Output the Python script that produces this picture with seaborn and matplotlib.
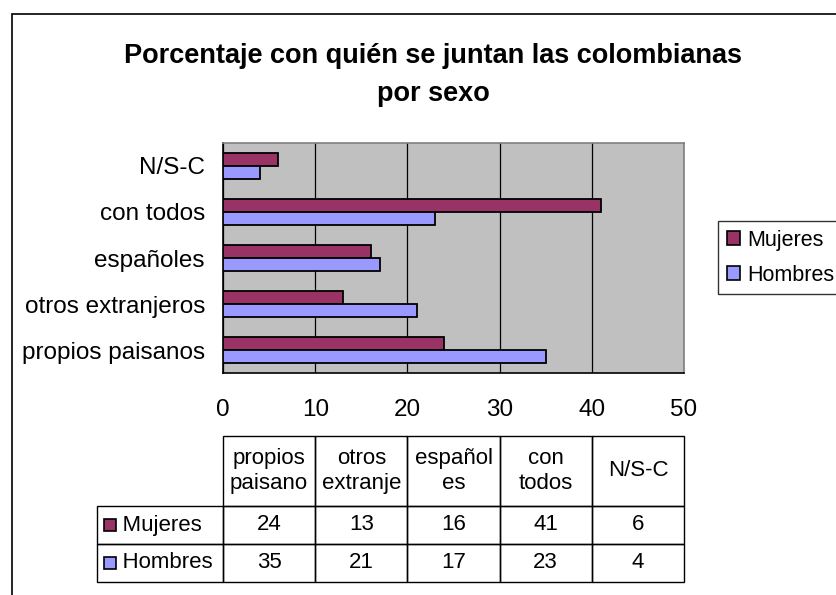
import matplotlib
matplotlib.use('Agg')
import matplotlib.pyplot as plt
import seaborn as sns
import pandas as pd
import numpy as np
from matplotlib.patches import Rectangle, Patch

# Datos del grafico
categorias = ['propios paisanos', 'otros extranjeros', 'españoles', 'con todos', 'N/S-C']
encabezados_tabla = ['propios\npaisano', 'otros\nextranje', 'español\nes', 'con\ntodos', 'N/S-C']
series = ['Mujeres', 'Hombres']
mujeres = [24, 13, 16, 41, 6]
hombres = [35, 21, 17, 23, 4]
colores = {'Mujeres': '#993366', 'Hombres': '#9999FF'}
marcas_x = [0, 10, 20, 30, 40, 50]
titulo = 'Porcentaje con quién se juntan las colombianas\npor sexo'

df = pd.DataFrame({
    'categoria': categorias * 2,
    'sexo': ['Mujeres'] * len(mujeres) + ['Hombres'] * len(hombres),
    'valor': mujeres + hombres,
})

sns.set_style('white')
plt.rcParams['font.family'] = ['Liberation Sans', 'DejaVu Sans']
plt.rcParams['text.color'] = 'black'
plt.rcParams['xtick.color'] = 'black'
plt.rcParams['ytick.color'] = 'black'
plt.rcParams['axes.labelcolor'] = 'black'

TAM = 17.5      # etiquetas de los ejes
TAM_TABLA = 16  # tabla y leyenda

W, H = 836, 595
fig = plt.figure(figsize=(W / 100, H / 100), dpi=100)

# marco exterior del grafico (se sale por la derecha y por abajo)
fig.patches.append(Rectangle((12 / W, -0.1), 1.2, 1.1 - 14 / H, transform=fig.transFigure,
                             fill=False, edgecolor='black', linewidth=1.2, zorder=0))

fig.text(433 / W, 1 - 75 / H, titulo, ha='center', va='center', fontsize=19.5,
         fontweight='bold', linespacing=1.6)

# area de trazado
ax = fig.add_axes([223 / W, 1 - 373 / H, (684 - 223) / W, (373 - 143) / H])
sns.barplot(data=df, y='categoria', x='valor', hue='sexo', order=categorias[::-1],
            hue_order=series, palette=colores, width=0.56, edgecolor='black',
            linewidth=1.3, saturation=1, legend=False, ax=ax, zorder=3)
ax.set_facecolor('#C0C0C0')
ax.set_xlim(0, 50)
ax.set_ylim(len(categorias) - 0.5, -0.5)
ax.set_xticks(marcas_x)
ax.set_xlabel('')
ax.set_ylabel('')
ax.grid(axis='x', color='black', linewidth=0.9, zorder=1)
ax.grid(axis='y', visible=False)
ax.set_axisbelow(True)
ax.set_yticks(np.arange(-0.5, len(categorias)), minor=True)
ax.tick_params(axis='y', which='major', length=0, pad=13, labelsize=TAM)
ax.tick_params(axis='y', which='minor', length=5, color='black', width=1)
ax.tick_params(axis='x', length=5, color='black', width=1, pad=14, labelsize=TAM, direction='out')
for lado in ['left', 'bottom']:
    ax.spines[lado].set_color('black')
    ax.spines[lado].set_linewidth(1.2)
for lado in ['top', 'right']:
    ax.spines[lado].set_color('#808080')
    ax.spines[lado].set_linewidth(1.2)

# leyenda
manejadores = [Patch(facecolor=colores[s], edgecolor='black', linewidth=1.2) for s in series]
leg = fig.legend(manejadores, series, loc='upper left', bbox_to_anchor=(718 / W, 1 - 221 / H),
                 frameon=True, fancybox=False, fontsize=15.5, handlelength=0.6, handleheight=0.6,
                 handletextpad=0.35, labelspacing=0.65, borderpad=0.4, borderaxespad=0)
leg.get_frame().set_edgecolor('black')
leg.get_frame().set_linewidth(1.0)

# tabla de datos
ax_t = fig.add_axes([97 / W, 1 - 582 / H, (684 - 97) / W, (582 - 436) / H])
ax_t.axis('off')
filas = [[''] + encabezados_tabla]
for s, vals in zip(series, [mujeres, hombres]):
    filas.append(['    ' + s] + [str(v) for v in vals])
ancho_etiqueta = (223 - 97) / (684 - 97)
ancho_col = (1 - ancho_etiqueta) / len(categorias)
tabla = ax_t.table(cellText=filas, colWidths=[ancho_etiqueta] + [ancho_col] * len(categorias),
                   cellLoc='center', bbox=[0, 0, 1, 1])
tabla.auto_set_font_size(False)
tabla.set_fontsize(TAM_TABLA)
alturas = [70 / 146, 38 / 146, 38 / 146]
for (r, c), celda in tabla.get_celld().items():
    celda.set_height(alturas[r])
    celda.set_edgecolor('black')
    celda.set_linewidth(1.0)
    celda.set_facecolor('none')
    celda.get_text().set_color('black')
    if r == 0 and c == 0:
        celda.visible_edges = ''
    if c == 0 and r > 0:
        celda.get_text().set_ha('left')
        celda.PAD = 0.01
    celda.get_text().set_linespacing(1.2)

# muestras de color en las etiquetas de fila
y_fila = 1 - alturas[0]
for s in series:
    centro = y_fila - alturas[1] / 2
    ax_t.add_patch(Rectangle((7 / 587, centro - 6 / 146), 12 / 587, 12 / 146,
                             transform=ax_t.transAxes, facecolor=colores[s],
                             edgecolor='black', linewidth=1.2, clip_on=False))
    y_fila -= alturas[1]

fig.savefig('out.png', dpi=100)
